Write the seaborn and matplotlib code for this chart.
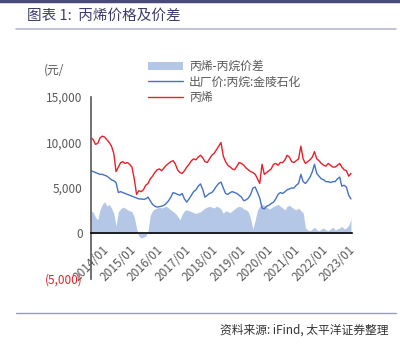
import matplotlib
matplotlib.use("Agg")
import matplotlib.pyplot as plt
import matplotlib.dates as mdates
import seaborn as sns
import pandas as pd
import numpy as np

# ---- data (monthly) ----
months = pd.date_range("2014-01-01", periods=115, freq="MS")

propylene = [
    10500, 10300, 9800, 9900, 10500, 10700, 10600, 10300, 10000, 9600, 8800, 6800,
    7300, 7800, 7900, 7700, 7800, 7600, 7300, 6000, 4300, 4700, 4600, 4800,
    5300, 5500, 6000, 6300, 6700, 7000, 7100, 6900, 7200, 7500, 7700, 7900,
    8000, 7600, 7000, 6700, 6600, 6900, 7300, 7600, 8000, 8200, 8100, 8400,
    8600, 8300, 7900, 7800, 8200, 8600, 8800, 9200, 9600, 10000, 8500, 7900,
    7500, 7300, 7100, 7000, 7400, 7800, 7700, 7500, 7200, 7000, 6800, 6700,
    6500, 6000, 5500, 7600, 6500, 6700, 6900, 7100, 7600, 7700, 7500, 7800,
    7800, 8100, 8600, 8400, 7900, 7800, 8000, 8200, 9600, 8200, 7700, 7900,
    8100, 8400, 9000, 8200, 8000, 7700, 7500, 7400, 7700, 7500, 7300, 7300,
    7500, 7700, 7300, 7000, 6900, 6300, 6600,
]

propane = [
    6900, 6800, 6700, 6600, 6500, 6500, 6400, 6300, 6100, 5900, 5800, 5600,
    4500, 4600, 4500, 4400, 4300, 4200, 4100, 4000, 3900, 3800, 3800, 3750,
    3800, 4000, 3600, 3200, 3000, 2900, 2950, 3000, 3100, 3300, 3600, 4000,
    4500, 4400, 4300, 4200, 4400, 3800, 3450, 3800, 4200, 4600, 4800, 5200,
    5450, 4800, 4000, 4200, 4400, 4500, 4800, 5200, 5500, 5650, 5000, 4400,
    4300, 4500, 4600, 4500, 4400, 4200, 4000, 3600, 3700, 3900, 4300, 5000,
    5100, 4500, 3900, 2800, 2700, 3000, 3100, 3300, 3450, 3800, 4300, 4500,
    4400, 4600, 4800, 4900, 5000, 5000, 5300, 5500, 6500, 5700, 5500, 5800,
    6200, 6800, 7600, 6600, 6300, 6000, 5900, 5700, 5700, 5600, 5700, 5700,
    6000, 6200, 5200, 5300, 5100, 4200, 3800,
]

spread = [
    2500, 2300, 1800, 1500, 2600, 3200, 3500, 3000, 3200, 2800, 2200, 800,
    2400, 2700, 2900, 2800, 2600, 2500, 2400, 1800, 600, -300, -500, -400,
    -300, 300, 2000, 2500, 2700, 2800, 2900, 2800, 2900, 3000, 2800, 2600,
    2400, 2200, 1900, 1500, 2100, 2500, 2600, 2500, 2400, 2300, 2200, 2300,
    2400, 2600, 2800, 2900, 3000, 2900, 2800, 3000, 2900, 2700, 2200, 2500,
    2400, 2300, 2500, 2700, 2900, 3000, 2900, 2700, 2600, 2400, 1600, 500,
    1500, 2600, 3000, 3200, 3100, 2900, 2700, 2800, 3000, 3100, 3200, 3000,
    2800, 2600, 3000, 3100, 2900, 2700, 2600, 2800, 2500, 2300, 600, 400,
    300, 500, 700, 400, 300, 500, 600, 400, 300, 500, 700, 400,
    500, 600, 800, 500, 600, 900, 1600,
]

year_ticks = pd.date_range("2014-01-01", "2023-01-01", freq="YS")

df = pd.DataFrame({"date": months, "丙烯": propylene,
                   "出厂价:丙烷:金陵石化": propane, "丙烯-丙烷价差": spread})

sns.set_style("white")
plt.rcParams['font.family'] = ['Noto Sans CJK SC', 'DejaVu Sans']

fig = plt.figure(figsize=(4, 3.52), dpi=100)
ax = fig.add_axes([0.2275, 0.2074, 0.6525, 0.517])

ax.fill_between(df["date"], 0, df["丙烯-丙烷价差"], color="#b4c7e7", lw=0,
                label="丙烯-丙烷价差")
sns.lineplot(data=df, x="date", y="出厂价:丙烷:金陵石化", ax=ax, color="#4472c4",
             lw=1.0, label="出厂价:丙烷:金陵石化")
sns.lineplot(data=df, x="date", y="丙烯", ax=ax, color="#e8202a", lw=1.0,
             label="丙烯")

ax.set_ylim(-5000, 15000)
ax.set_xlim(pd.Timestamp("2014-01-01"), pd.Timestamp("2023-07-15"))
ax.set_yticks([-5000, 0, 5000, 10000, 15000])
ax.set_yticklabels(["(5,000)", "0", "5,000", "10,000", "15,000"])
ax.get_yticklabels()[0].set_color("#e8202a")
for lab in ax.get_yticklabels()[1:]:
    lab.set_color("#595959")
ax.tick_params(axis="y", labelsize=8.5, length=3, direction="in", pad=6)

ax.set_xticks(year_ticks)
ax.xaxis.set_major_formatter(mdates.DateFormatter("%Y/%m"))
ax.tick_params(axis="x", labelsize=8.5, colors="#595959", length=3, direction="out",
               rotation=45, pad=4)
for lab in ax.get_xticklabels():
    lab.set_ha("right")
    lab.set_rotation_mode("anchor")
ax.set_xlabel("")
ax.set_ylabel("")

ax.spines["top"].set_visible(False)
ax.spines["right"].set_visible(False)
ax.spines["bottom"].set_position(("data", 0))
ax.spines["bottom"].set_color("black")
ax.spines["bottom"].set_linewidth(1.2)
ax.spines["left"].set_color("#595959")
ax.spines["left"].set_linewidth(1.2)

leg = ax.legend(loc="lower left", bbox_to_anchor=(0.195, 0.93), frameon=False,
                fontsize=8.5, handlelength=3, labelspacing=0.2, borderpad=0,
                handletextpad=0.5)
for t in leg.get_texts():
    t.set_color("#595959")

fig.text(0.11, 0.79, "(元/", fontsize=8.5, color="#595959", style="italic")

# header and footer
fig.add_artist(plt.Line2D([0.0, 1.0], [0.997, 0.997], color="#4a4a7a", lw=2.5))
fig.text(0.068, 0.955, "图表 1:  丙烯价格及价差", fontsize=10.5, color="#3d3d6b",
         va="center")
fig.add_artist(plt.Line2D([0.04, 0.99], [0.917, 0.917], color="#b8b8d0", lw=1.2))
fig.add_artist(plt.Line2D([0.04, 0.99], [0.111, 0.111], color="#9a9ac0", lw=1))
fig.text(0.97, 0.062, "资料来源: iFind, 太平洋证券整理", fontsize=8.5, color="#333333",
         ha="right", va="center", style="italic")

fig.savefig("out.png", dpi=100)
